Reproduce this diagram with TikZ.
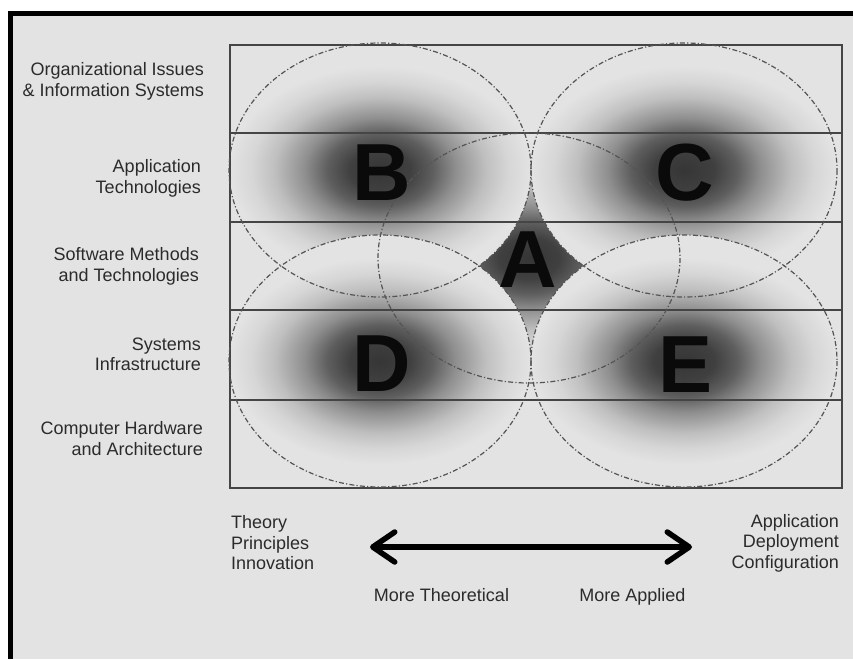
\documentclass[tikz,border=0pt]{standalone}
\usepackage{fontspec}
\setmainfont{Liberation Sans}
\usetikzlibrary{arrows.meta}
\definecolor{bgc}{gray}{0.89}
\definecolor{s0}{gray}{0.21}
\definecolor{s1}{gray}{0.25}
\definecolor{s2}{gray}{0.37}
\definecolor{s3}{gray}{0.56}
\definecolor{s4}{gray}{0.75}
\definecolor{s5}{gray}{0.84}
\definecolor{txt}{gray}{0.17}
\definecolor{ink}{gray}{0.04}
\definecolor{ringc}{gray}{0.33}
\definecolor{gridc}{gray}{0.27}
\pgfdeclareradialshading{blob}{\pgfpointorigin}{color(0bp)=(s0); color(5bp)=(s1); color(8.75bp)=(s2); color(12.5bp)=(s3); color(17.5bp)=(s4); color(21.25bp)=(s5); color(25bp)=(bgc); color(50bp)=(bgc)}
\newcommand\blobat[4]{% center x, center y, rx, ry
  \begin{scope}
    \clip (#1,#2) ellipse [x radius=#3, y radius=#4];
    \fill[bgc] (#1,#2) ellipse [x radius=#3, y radius=#4];
    \shade[shading=blob] (#1,#2) ellipse [x radius=#3, y radius=0.82*#4];
  \end{scope}}
\begin{document}
\begin{tikzpicture}[x=1pt,y=-1pt,
  lbl/.style={font=\fontsize{18}{20.5}\selectfont, text=txt, inner sep=0pt},
  big/.style={font=\fontsize{81}{81}\selectfont\bfseries, text=ink, inner sep=0pt, anchor=base},
  ring/.style={draw=ringc, line width=1.2pt, dash pattern=on 5pt off 2.2pt on 1.2pt off 2.2pt},
  gridline/.style={draw=gridc, line width=1.3pt}]
\useasboundingbox (0,0) rectangle (853,659);
\fill[white] (0,0) rectangle (853,659);
\fill[bgc] (8,11) rectangle (853,659);
\draw[black, line width=5pt] (8,13.5) -- (853,13.5);
\draw[black, line width=5pt] (10.5,11) -- (10.5,659);
% shaded blobs
\blobat{529}{258}{151}{125}
\blobat{380}{170}{151}{127}
\blobat{684}{170}{153}{127}
\blobat{380}{361}{151}{126}
\blobat{684}{361}{153}{126}
% grid
\draw[gridline] (230,45) rectangle (842,488);
\foreach \yy in {133,222,310,400} \draw[gridline] (230,\yy) -- (842,\yy);
% rings
\draw[ring] (529,258) ellipse [x radius=151, y radius=125];
\draw[ring] (380,170) ellipse [x radius=151, y radius=127];
\draw[ring] (684,170) ellipse [x radius=153, y radius=127];
\draw[ring] (380,361) ellipse [x radius=151, y radius=126];
\draw[ring] (684,361) ellipse [x radius=153, y radius=126];
% big letters
\node[big] (lB) at (381.5,200) {B};
\node[big] (lC) at (684.5,200) {C};
\node[big] (lA) at (527.5,287) {A};
\node[big] (lD) at (381.5,391) {D};
\node[big] (lE) at (685.5,392) {E};
% row labels
\node[lbl, anchor=east, align=right] (r1) at (204,81.5) {Organizational Issues\\\& Information Systems};
\node[lbl, anchor=east, align=right] (r2) at (201,178.5) {Application\\Technologies};
\node[lbl, anchor=east, align=right] (r3) at (199,266.5) {Software Methods\\and Technologies};
\node[lbl, anchor=east, align=right] (r4) at (201,354.5) {Systems\\Infrastructure};
\node[lbl, anchor=east, align=right] (r5) at (203,438.5) {Computer Hardware\\and Architecture};
% bottom
\node[lbl, anchor=west, align=left] (tl) at (231,543) {Theory\\Principles\\Innovation};
\node[lbl, anchor=east, align=right] (tr) at (839,543) {Application\\Deployment\\Configuration};
\coordinate (al) at (370,547);
\coordinate (ar) at (692,547);
\draw[line width=5.5pt, {Straight Barb[length=22pt,width=30pt,round]}-{Straight Barb[length=22pt,width=30pt,round]}] (al) -- (ar);
\node[lbl, anchor=base] (mt) at (441.5,601) {More Theoretical};
\node[lbl, anchor=base] (ma) at (632.5,601) {More Applied};
\end{tikzpicture}
\end{document}
